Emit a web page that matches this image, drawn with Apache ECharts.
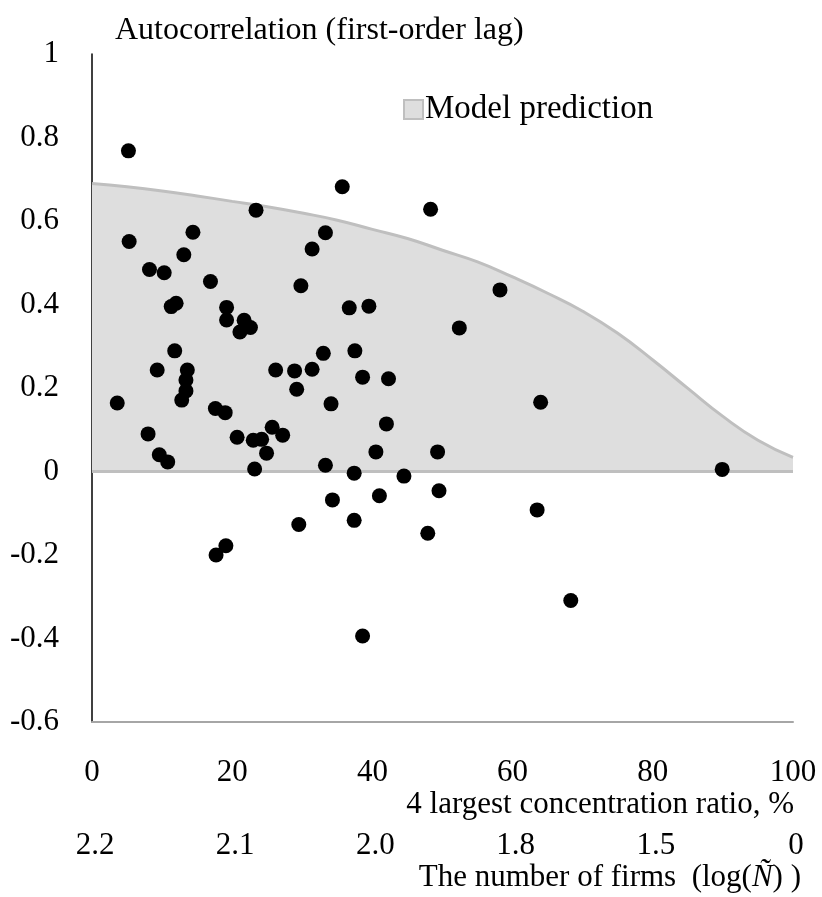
<!DOCTYPE html>
<html><head><meta charset="utf-8">
<script src="https://cdn.jsdelivr.net/npm/echarts@6/dist/echarts.min.js"></script>
<style>html,body{margin:0;padding:0;background:#fff}#c{width:822px;height:897px}</style>
</head><body><div id="c"></div>
<script>
// Observed industries: 4-firm concentration ratio (%) and first-order autocorrelation
const concentration = [5.2,23.4,14.4,5.3,13.1,8.2,10.3,16.9,11.3,12.0,19.2,19.2,21.7,22.6,21.1,35.7,48.3,33.3,31.4,29.8,36.7,39.5,33.0,37.5,11.8,9.3,13.6,13.4,13.4,12.8,3.6,17.6,19.0,8.0,20.7,23.0,24.2,9.6,10.8,24.9,23.2,19.1,17.7,26.2,28.9,31.4,38.6,42.3,29.2,34.1,42.0,25.7,27.2,40.5,49.3,33.3,37.4,44.5,49.5,34.3,41.0,29.5,37.4,47.9,38.6,58.2,52.4,64.0,63.5,89.9,68.3];
const autocorr = [0.768,0.626,0.573,0.551,0.519,0.484,0.476,0.455,0.395,0.403,0.393,0.363,0.362,0.345,0.334,0.682,0.628,0.572,0.533,0.445,0.392,0.396,0.283,0.289,0.289,0.243,0.243,0.219,0.193,0.171,0.164,0.151,0.141,0.090,0.082,0.075,0.077,0.040,0.023,0.044,0.006,-0.178,-0.200,0.243,0.241,0.245,0.226,0.222,0.197,0.162,0.114,0.106,0.087,0.047,0.047,0.015,-0.004,-0.011,-0.046,-0.068,-0.058,-0.127,-0.117,-0.148,-0.394,0.435,0.344,0.166,-0.092,0.005,-0.309];
// Model prediction curve
const modelX = [0,5,10,15,20,25,30,35,40,45,50,55,60,65,70,75,80,85,90,95,100];
const modelY = [0.690,0.682,0.672,0.660,0.647,0.634,0.619,0.602,0.580,0.558,0.530,0.502,0.466,0.427,0.384,0.331,0.267,0.199,0.132,0.075,0.034];
const baselineX = [0,100];
const baselineY = [0,0];
// Axis tick labels
const xTicks = [0,20,40,60,80,100];
const firmLabels = ['2.2','2.1','2.0','1.8','1.5','0'];

const FONT = 'Liberation Serif';
const chart = echarts.init(document.getElementById('c'));
chart.setOption({
  animation:false,
  backgroundColor:'#fff',
  textStyle:{fontFamily:FONT,color:'#000'},
  title:{text:'Autocorrelation (first-order lag)',left:110,top:10,
    textStyle:{fontFamily:FONT,fontSize:32,fontWeight:'normal',color:'#000'}},
  grid:{left:92,right:29,top:54,bottom:175,outerBoundsMode:'none',containLabel:false},
  legend:{
    data:[{name:'Model prediction',itemStyle:{color:'#dedede',borderColor:'#bfbfbf',borderWidth:2}}],
    left:398,top:88,icon:'rect',itemWidth:19,itemHeight:19,itemGap:4,
    textStyle:{fontFamily:FONT,fontSize:33,color:'#000',padding:[0,0,0,-3]}
  },
  xAxis:[{
    type:'value',min:0,max:100,interval:20,position:'bottom',
    axisLine:{show:true,onZero:false,lineStyle:{color:'#a6a6a6',width:2}},
    axisTick:{show:false},splitLine:{show:false},
    axisLabel:{margin:35,fontSize:31,color:'#000',fontFamily:FONT}
  },{
    type:'value',min:0,max:100,interval:20,position:'bottom',offset:71,
    axisLine:{show:false,onZero:false},axisTick:{show:false},splitLine:{show:false},
    axisLabel:{margin:37,fontSize:31,color:'#000',fontFamily:FONT,padding:[0,0,0,6],
      formatter:v=>firmLabels[xTicks.indexOf(v)]}
  }],
  yAxis:{
    type:'value',min:-0.6,max:1,interval:0.2,
    axisLine:{show:true,onZero:false,lineStyle:{color:'#000',width:1.5}},
    axisTick:{show:false},splitLine:{show:false},
    axisLabel:{margin:33,fontSize:31,color:'#000',fontFamily:FONT,
      formatter:v=>String(Math.round(v*10)/10)}
  },
  graphic:[
    {type:'text',right:28,top:789,style:{text:'4 largest concentration ratio, %',font:'31px "Liberation Serif"',fill:'#000'}},
    {type:'text',right:21,top:862,style:{text:'The number of firms  (log({i|Ñ}) )',font:'31px "Liberation Serif"',fill:'#000',
      rich:{i:{fontStyle:'italic',fontSize:31,fontFamily:FONT}}}}
  ],
  series:[
    {name:'Model prediction',type:'line',data:modelX.map((x,i)=>[x,modelY[i]]),smooth:0.5,
      symbol:'none',lineStyle:{color:'#bfbfbf',width:3},itemStyle:{color:'#dedede'},
      areaStyle:{color:'#dedede',opacity:1,origin:0},z:1},
    {name:'baseline',type:'line',data:baselineX.map((x,i)=>[x,baselineY[i]]),symbol:'none',
      lineStyle:{color:'#bfbfbf',width:3},z:2},
    {name:'Industries',type:'scatter',data:concentration.map((x,i)=>[x,autocorr[i]]),
      symbolSize:15,itemStyle:{color:'#000',opacity:1},z:3}
  ]
});
</script></body></html>
